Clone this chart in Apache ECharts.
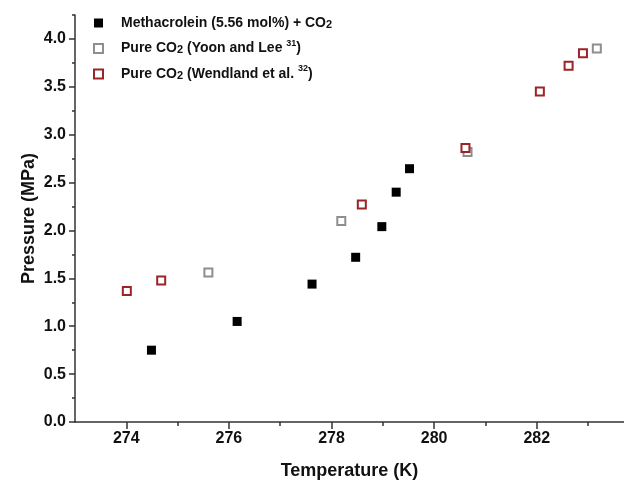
<!DOCTYPE html>
<html>
<head>
<meta charset="utf-8">
<script src="https://cdn.jsdelivr.net/npm/echarts@6/dist/echarts.min.js"></script>
<style>
  html, body { margin: 0; padding: 0; background: #fff; }
  #chart { width: 624px; height: 486px; }
</style>
</head>
<body>
<div id="chart"></div>
<script>
// Methacrolein (5.56 mol%) + CO2
const methT = [274.49, 276.16, 277.62, 278.47, 278.98, 279.26, 279.52]
const methP = [0.75, 1.05, 1.44, 1.72, 2.04, 2.40, 2.645]
// Pure CO2, Yoon and Lee
const yoonT = [275.60, 278.19, 280.65, 283.17]
const yoonP = [1.56, 2.10, 2.82, 3.90]
// Pure CO2, Wendland et al.
const wendT = [274.01, 274.68, 278.59, 280.61, 282.06, 282.62, 282.90]
const wendP = [1.367, 1.478, 2.27, 2.86, 3.45, 3.72, 3.85]

const xMajor = [274, 276, 278, 280, 282]
const xMinor = [275, 277, 279, 281, 283]
const yMajor = [0, 0.5, 1.0, 1.5, 2.0, 2.5, 3.0, 3.5, 4.0]
const yMinor = [0.25, 0.75, 1.25, 1.75, 2.25, 2.75, 3.25, 3.75, 4.25]

const seriesNames = [
  'Methacrolein (5.56 mol%) + CO{sub|2}',
  'Pure CO{sub|2} (Yoon and Lee {sup|31})',
  'Pure CO{sub|2} (Wendland et al. {sup|32})'
]

const font = '"Liberation Sans", Arial, sans-serif'
const axisColor = '#333'
const pairs = (xs, ys) => xs.map((x, i) => [x, ys[i]])

const chart = echarts.init(document.getElementById('chart'))

const xRange = { min: 273, max: 283.7 }
const yRange = { min: 0, max: 4.25 }

chart.setOption({
  animation: false,
  grid: { left: 75, right: 0, top: 15, bottom: 64 },
  legend: {
    orient: 'vertical',
    left: 88,
    top: 11,
    itemWidth: 9,
    itemHeight: 9,
    itemGap: 9,
    textStyle: {
      fontFamily: font,
      fontWeight: 'bold',
      fontSize: 14,
      color: '#111',
      padding: [0, 0, 0, 13],
      rich: {
        sub: { fontFamily: font, fontWeight: 'bold', fontSize: 11, color: '#111', padding: [3, 0, 0, 0] },
        sup: { fontFamily: font, fontWeight: 'bold', fontSize: 9, color: '#111', padding: [0, 0, 10, 0] }
      }
    },
    data: seriesNames
  },
  xAxis: [
    {
      type: 'value',
      ...xRange,
      name: 'Temperature (K)',
      nameLocation: 'middle',
      nameGap: 40,
      nameTextStyle: { fontFamily: font, fontWeight: 'bold', fontSize: 18, color: '#111' },
      axisLine: { lineStyle: { color: axisColor, width: 1.5 } },
      axisTick: { length: 7, lineStyle: { color: axisColor, width: 1.5 }, customValues: xMajor },
      axisLabel: { customValues: xMajor, fontFamily: font, fontWeight: 'bold', fontSize: 16, color: '#111', margin: 9 },
      splitLine: { show: false }
    },
    {
      type: 'value',
      ...xRange,
      position: 'bottom',
      axisLine: { show: false },
      axisTick: { length: 4, lineStyle: { color: axisColor, width: 1.5 }, customValues: xMinor },
      axisLabel: { show: false },
      splitLine: { show: false }
    }
  ],
  yAxis: [
    {
      type: 'value',
      ...yRange,
      name: 'Pressure (MPa)',
      nameLocation: 'middle',
      nameGap: 37,
      nameMoveOverlap: false,
      nameTextStyle: { fontFamily: font, fontWeight: 'bold', fontSize: 18, color: '#111' },
      axisLine: { show: true, lineStyle: { color: axisColor, width: 1.5 } },
      axisTick: { show: true, length: 6, lineStyle: { color: axisColor, width: 1.5 }, customValues: yMajor },
      axisLabel: {
        customValues: yMajor,
        formatter: (v) => v.toFixed(1),
        fontFamily: font, fontWeight: 'bold', fontSize: 16, color: '#111', margin: 9
      },
      splitLine: { show: false }
    },
    {
      type: 'value',
      ...yRange,
      position: 'left',
      axisLine: { show: false },
      axisTick: { show: true, length: 3, lineStyle: { color: axisColor, width: 1.5 }, customValues: yMinor },
      axisLabel: { show: false },
      splitLine: { show: false }
    }
  ],
  series: [
    {
      name: seriesNames[0],
      type: 'scatter',
      symbol: 'rect',
      symbolSize: 9,
      itemStyle: { color: '#000', opacity: 1 },
      data: pairs(methT, methP)
    },
    {
      name: seriesNames[1],
      type: 'scatter',
      symbol: 'rect',
      symbolSize: 8,
      itemStyle: { color: '#fff', borderColor: '#8e8e8e', borderWidth: 2, opacity: 1 },
      data: pairs(yoonT, yoonP)
    },
    {
      name: seriesNames[2],
      type: 'scatter',
      symbol: 'rect',
      symbolSize: 8,
      itemStyle: { color: '#fff', borderColor: '#992526', borderWidth: 2, opacity: 1 },
      data: pairs(wendT, wendP)
    }
  ]
})

window.addEventListener('resize', () => chart.resize())
</script>
</body>
</html>
